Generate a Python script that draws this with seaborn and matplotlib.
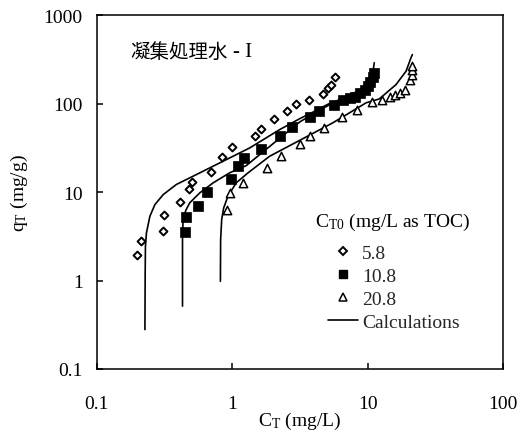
import matplotlib
matplotlib.use("Agg")
import matplotlib.pyplot as plt
from matplotlib.lines import Line2D
from matplotlib.ticker import FixedLocator, FuncFormatter, NullLocator
import numpy as np
import pandas as pd
import seaborn as sns

# Measured equilibrium data, C_T (mg/L) vs q_T (mg/g), for each initial TOC
ct_58 = [0.199, 0.211, 0.309, 0.315, 0.410, 0.481, 0.509, 0.695, 0.847, 0.997,
         1.47, 1.64, 2.05, 2.53, 2.97, 3.69, 4.65, 5.12, 5.36, 5.77]
qt_58 = [1.92, 2.81, 3.67, 5.52, 7.67, 10.7, 13.1, 16.9, 24.7, 32.1,
         42.7, 52.2, 67.7, 83.4, 99.3, 110, 127, 149, 162, 198]

ct_108 = [0.447, 0.455, 0.560, 0.652, 0.987, 1.10, 1.22, 1.64, 2.24, 2.77,
          3.75, 4.37, 5.67, 6.61, 7.40, 8.06, 8.77, 9.55, 10.1, 10.5, 10.9, 11.1]
qt_108 = [3.51, 5.25, 6.92, 10.1, 14.2, 19.6, 24.1, 30.8, 42.7, 54.0,
          71.3, 82.6, 96.6, 110, 115, 120, 131, 143, 158, 177, 198, 220]

ct_208 = [0.922, 0.970, 1.20, 1.82, 2.30, 3.16, 3.75, 4.76, 6.42, 8.29,
          10.7, 12.7, 14.6, 15.9, 17.3, 18.9, 20.5, 21.1, 21.3, 21.3]
qt_208 = [6.34, 9.8, 12.7, 18.8, 25.4, 35.0, 42.5, 53.6, 71.3, 84.9,
          104, 110, 120, 125, 131, 143, 185, 210, 240, 266]

# Calculated isotherm curves
calc_ct_58 = [0.227, 0.228, 0.229, 0.233, 0.247, 0.269, 0.310, 0.388, 0.514,
              0.723, 0.958, 1.35, 2.24, 3.18, 3.94, 5.20]
calc_qt_58 = [0.279, 1.22, 2.44, 3.46, 5.33, 7.22, 9.38, 12.2, 15.1,
              19.6, 24.3, 31.6, 50.8, 68.0, 80.0, 100]

calc_ct_108 = [0.430, 0.430, 0.434, 0.455, 0.486, 0.577, 0.723, 0.958, 1.27,
               2.24, 3.18, 5.52, 7.33, 9.50, 10.6, 11.0, 11.2]
calc_qt_108 = [0.513, 2.91, 4.89, 6.23, 7.55, 9.80, 12.7, 16.5, 19.9,
               40.5, 62.6, 102, 126, 148, 190, 240, 290]

calc_ct_208 = [0.819, 0.822, 0.837, 0.866, 0.931, 1.07, 1.31, 1.89, 5.52,
               7.33, 9.73, 12.2, 16.2, 19.2, 20.9, 21.4]
calc_qt_208 = [0.98, 2.91, 4.89, 6.63, 8.97, 12.7, 16.5, 25.4, 60.5,
               78.5, 102, 113, 164, 232, 330, 358]

series_labels = ["5.8", "10.8", "20.8"]
tick_values = [0.1, 1, 10, 100, 1000]

sns.set_theme(style="ticks")
plt.rcParams["font.family"] = ["Liberation Serif", "Noto Sans CJK JP"]
plt.rcParams["mathtext.fontset"] = "custom"
plt.rcParams["mathtext.rm"] = "Liberation Serif"
plt.rcParams["axes.linewidth"] = 1.1

fig = plt.figure(figsize=(5.21, 4.39), dpi=100)
ax = fig.add_axes([0.1856, 0.1572, 0.780, 0.806])

curves = pd.concat([
    pd.DataFrame({"ct": calc_ct_58, "qt": calc_qt_58, "run": 0}),
    pd.DataFrame({"ct": calc_ct_108, "qt": calc_qt_108, "run": 1}),
    pd.DataFrame({"ct": calc_ct_208, "qt": calc_qt_208, "run": 2}),
])
sns.lineplot(data=curves, x="ct", y="qt", units="run", estimator=None,
             sort=False, color="black", lw=1.2, ax=ax, legend=False)

sns.scatterplot(x=ct_58, y=qt_58, marker="D", s=16, facecolor="white",
                edgecolor="black", linewidth=1.4, ax=ax, zorder=3)
sns.scatterplot(x=ct_108, y=qt_108, marker="s", s=42, color="black",
                edgecolor="black", linewidth=0.5, ax=ax, zorder=3)
sns.scatterplot(x=ct_208, y=qt_208, marker="^", s=36, facecolor="white",
                edgecolor="black", linewidth=1.1, ax=ax, zorder=3)

ax.set_xscale("log")
ax.set_yscale("log")
ax.set_xlim(0.1, 100)
ax.set_ylim(0.1, 1000)

fmt = FuncFormatter(lambda v, _: f"{v:g}")
ax.xaxis.set_major_locator(FixedLocator(tick_values[:4]))
ax.yaxis.set_major_locator(FixedLocator(tick_values))
ax.xaxis.set_major_formatter(fmt)
ax.yaxis.set_major_formatter(fmt)
ax.xaxis.set_minor_locator(NullLocator())
ax.yaxis.set_minor_locator(NullLocator())
ax.tick_params(axis="x", direction="in", length=4, width=1.1, pad=19,
               labelsize=14, colors="black")
ax.tick_params(axis="y", direction="in", length=4, width=1.1, pad=10,
               labelsize=14, colors="black")
for s in ax.spines.values():
    s.set_visible(True)
    s.set_color("black")

ax.set_xlabel(r"$\mathregular{C_T}$ (mg/L)", fontsize=14, color="black")
ax.set_ylabel(r"$\mathregular{q_T}$ (mg/g)", fontsize=14, color="black")
ax.xaxis.set_label_coords(0.5, -0.115)
ax.yaxis.set_label_coords(-0.165, 0.5)

ax.text(0.082, 0.898, "凝集処理水", transform=ax.transAxes, fontsize=14,
        va="center", ha="left", family=["Noto Sans CJK JP"], color="black")
ax.text(0.335, 0.898, "- I", transform=ax.transAxes, fontsize=15,
        va="center", ha="left", color="black")

ax.text(0.538, 0.418, r"$\mathregular{C_{T0}}$ (mg/L as TOC)",
        transform=ax.transAxes, fontsize=14, va="center", ha="left",
        color="black")

handles = [
    Line2D([], [], ls="none", marker="D", ms=4, mfc="white", mec="black", mew=1.4),
    Line2D([], [], ls="none", marker="s", ms=6, mfc="black", mec="black"),
    Line2D([], [], ls="none", marker="^", ms=6, mfc="white", mec="black", mew=1.1),
    Line2D([], [], color="black", lw=1.2),
]
ax.legend(handles, series_labels + ["Calculations"], loc="upper left",
          bbox_to_anchor=(0.570, 0.352), frameon=False, fontsize=14,
          handlelength=1.5, handletextpad=0.25, labelspacing=0.27,
          borderpad=0, borderaxespad=0)

fig.savefig("out.png", dpi=100)
